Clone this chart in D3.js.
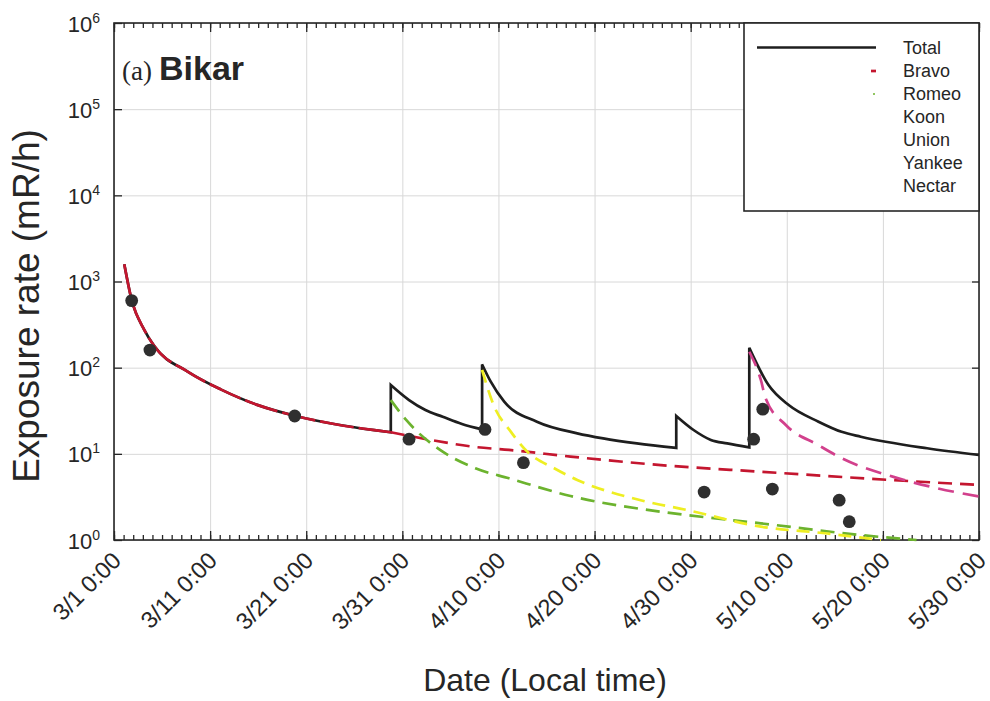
<!DOCTYPE html>
<html>
<head>
<meta charset="utf-8">
<script src="https://cdn.jsdelivr.net/npm/d3@7"></script>
<style>
  body { margin: 0; background: #fff; }
  svg { display: block; }
</style>
</head>
<body>
<svg id="chart" width="990" height="701"></svg>
<script>
// Exposure rate at Bikar, spring 1954. Times are days after 3/1 0:00 (local).

// Tick labels
const xTickDays = [0, 10, 20, 30, 40, 50, 60, 70, 80, 90];
const xTickLabels = ["3/1 0:00", "3/11 0:00", "3/21 0:00", "3/31 0:00", "4/10 0:00",
                     "4/20 0:00", "4/30 0:00", "5/10 0:00", "5/20 0:00", "5/30 0:00"];
const yTickValues = [1, 10, 100, 1000, 10000, 100000, 1000000];
const yTickExponents = ["0", "1", "2", "3", "4", "5", "6"];

// Legend entries
const legendNames = ["Total", "Bravo", "Romeo", "Koon", "Union", "Yankee", "Nectar"];

// Measured exposure rates [day, mR/h]
const measured = [
  [1.84, 600], [3.74, 160], [18.8, 27.5], [30.7, 14.8], [38.6, 19.2], [42.6, 7.9],
  [61.4, 3.6], [66.55, 14.8], [67.5, 33], [68.5, 3.9], [75.45, 2.9], [76.5, 1.63]
];

// Total exposure rate, one piece per fallout arrival [day, mR/h]
const totalPieces = [
  [[1.07, 1590], [1.84, 610], [3.15, 275], [4.19, 178], [7.66, 90], [11.1, 56],
   [14.9, 37], [18.8, 27.7], [22.9, 22.2], [27.1, 18.8], [28.8, 17.8]],
  [[28.8, 62.8], [30.7, 42], [32.4, 32.2], [34.2, 26.9], [36.2, 22.2], [38.3, 19.2]],
  [[38.3, 109], [39.2, 68.7], [40.6, 40.3], [44.0, 23.6], [48.2, 17.3], [50.9, 15.1],
   [54.4, 13.2], [58.5, 11.7]],
  [[58.5, 27.5], [60.3, 18.9], [62.1, 14.5], [63.8, 13.2], [66.1, 11.9]],
  [[66.1, 170], [68.1, 62.8], [70.2, 36.8], [73.3, 23.6], [75.7, 18], [77.7, 15.8],
   [84.6, 11.6], [90, 9.7]]
];

// Contribution of each test [day, mR/h]
const bravo = [
  [1.07, 1590], [1.84, 610], [3.15, 275], [4.19, 178], [7.66, 90], [11.1, 56],
  [14.9, 37], [18.8, 27.7], [22.9, 22.2], [27.1, 18.8], [28.8, 17.8], [32.8, 14.6],
  [37.6, 12.0], [41.1, 11.1], [47.5, 9.3], [56.9, 7.4], [67.3, 6.2], [80.4, 5.0], [90, 4.35]
];
const romeo = [
  [28.8, 42], [30.4, 24.7], [34.2, 10.6], [37.6, 6.8], [41.1, 5.2], [47.5, 3.24],
  [56.9, 2.13], [59.6, 1.95], [67.3, 1.56], [77.7, 1.14], [83.5, 1.0]
];
const koon = [
  [38.3, 94], [39.5, 36.8], [41.3, 18], [43.0, 10.6], [45.8, 6.8], [48.2, 4.97],
  [54.4, 2.97], [59.6, 2.23], [67.3, 1.43], [74.2, 1.19], [79.8, 1.0]
];
const yankee = [
  [66.1, 153], [67.3, 72], [67.8, 44], [69.9, 21.6], [73.3, 12.6], [75.7, 8.9], [81.1, 5.4],
  [85.6, 4.0], [90, 3.2]
];

const svg = d3.select("#chart");
const FONT = "'Liberation Sans', Arial, Helvetica, sans-serif";
const INK = "#262626";

const plot = { left: 114, right: 979, top: 23, bottom: 540 };
const origin = Date.UTC(1954, 2, 1);
const toDate = d => new Date(origin + d * 864e5);

const x = d3.scaleUtc().domain([toDate(0), toDate(90)]).range([plot.left, plot.right]);
const y = d3.scaleLog().domain([1, 1e6]).range([plot.bottom, plot.top]);

const plotW = plot.right - plot.left;
const plotH = plot.bottom - plot.top;
const dayTicks = d3.range(0, 91).map(toDate);
const majorTicks = xTickDays.map(toDate);

// grid
svg.append("g")
  .attr("transform", `translate(0,${plot.bottom})`)
  .call(d3.axisBottom(x).tickValues(majorTicks).tickSize(-plotH).tickFormat(""))
  .call(g => g.select(".domain").remove())
  .call(g => g.selectAll("line").attr("stroke", "#d8d8d8").attr("stroke-width", 1));
svg.append("g")
  .attr("transform", `translate(${plot.left},0)`)
  .call(d3.axisLeft(y).tickValues(yTickValues).tickSize(-plotW).tickFormat(""))
  .call(g => g.select(".domain").remove())
  .call(g => g.selectAll("line").attr("stroke", "#d8d8d8").attr("stroke-width", 1));

// frame
svg.append("rect")
  .attr("x", plot.left).attr("y", plot.top)
  .attr("width", plotW).attr("height", plotH)
  .attr("fill", "none").attr("stroke", INK).attr("stroke-width", 1.6);

function tickStyle(g) {
  g.select(".domain").remove();
  g.selectAll("line").attr("stroke", INK).attr("stroke-width", 1.3);
}

// bottom axis: daily minor ticks, 10-day major ticks, all pointing inward
svg.append("g").attr("transform", `translate(0,${plot.bottom})`)
  .call(d3.axisBottom(x).tickValues(dayTicks).tickSize(-5).tickFormat(""))
  .call(tickStyle);
const xAxis = svg.append("g").attr("transform", `translate(0,${plot.bottom})`)
  .call(d3.axisBottom(x).tickValues(majorTicks).tickSize(-9)
    .tickFormat((d, i) => xTickLabels[i]))
  .call(tickStyle);
xAxis.selectAll("text")
  .attr("font-family", FONT).attr("font-size", 23.5).attr("fill", INK)
  .attr("text-anchor", "end")
  .attr("dy", null)
  .attr("y", 0)
  .attr("transform", "translate(8,22) rotate(-45)");

// top axis
svg.append("g").attr("transform", `translate(0,${plot.top})`)
  .call(d3.axisTop(x).tickValues(dayTicks).tickSize(-5).tickFormat(""))
  .call(tickStyle);
svg.append("g").attr("transform", `translate(0,${plot.top})`)
  .call(d3.axisTop(x).tickValues(majorTicks).tickSize(-9).tickFormat(""))
  .call(tickStyle);

// left axis with 10^n labels
const yAxis = svg.append("g").attr("transform", `translate(${plot.left},0)`)
  .call(d3.axisLeft(y).tickValues(yTickValues).tickSize(-8).tickFormat(""))
  .call(tickStyle);
yAxis.selectAll(".tick").each(function(d, i) {
  const t = d3.select(this).append("text")
    .attr("x", -14).attr("y", 8)
    .attr("text-anchor", "end")
    .attr("font-family", FONT).attr("fill", INK);
  t.append("tspan").attr("font-size", 22).text("10");
  t.append("tspan").attr("font-size", 14).attr("dy", -9).text(yTickExponents[i]);
});

// right axis
svg.append("g").attr("transform", `translate(${plot.right},0)`)
  .call(d3.axisRight(y).tickValues(yTickValues).tickSize(-7).tickFormat(""))
  .call(tickStyle);

// data lines
svg.append("defs").append("clipPath").attr("id", "plotclip")
  .append("rect").attr("x", plot.left).attr("y", plot.top - 2)
  .attr("width", plotW).attr("height", plotH + 4);
const layer = svg.append("g").attr("clip-path", "url(#plotclip)");

const line = d3.line()
  .x(d => x(toDate(d[0])))
  .y(d => y(d[1]))
  .curve(d3.curveMonotoneX);

// total: pieces joined by vertical jumps
const totalPath = totalPieces.map((p, i) => {
  const s = line(p);
  return i === 0 ? s : "L" + s.slice(1);
}).join("");
layer.append("path").attr("d", totalPath)
  .attr("fill", "none").attr("stroke", "#1e1e1e").attr("stroke-width", 2.7)
  .attr("stroke-linejoin", "miter");

function dashed(data, color, dash) {
  layer.append("path").attr("d", line(data))
    .attr("fill", "none").attr("stroke", color).attr("stroke-width", 2.7)
    .attr("stroke-dasharray", dash);
}
const bravoSplit = bravo.findIndex(d => d[0] >= 28.8);
dashed(bravo.slice(0, bravoSplit + 1), "#c4162f", "34,5");
dashed(bravo.slice(bravoSplit), "#c4162f", "14,8");
dashed(romeo, "#6cb32e", "14,8");
dashed(koon, "#eeee22", "13,8");
dashed(yankee, "#d2408c", "16,9");

// measured points
layer.selectAll("circle.obs").data(measured).join("circle")
  .attr("class", "obs")
  .attr("cx", d => x(toDate(d[0])))
  .attr("cy", d => y(d[1]))
  .attr("r", 6.4)
  .attr("fill", "#2f2f2f");

// panel label
const title = svg.append("text").attr("x", 122).attr("y", 80).attr("fill", INK);
title.append("tspan").attr("font-family", "'Liberation Serif', 'Times New Roman', serif")
  .attr("font-size", 27).text("(a)");
title.append("tspan").attr("font-family", FONT).attr("font-weight", "bold")
  .attr("font-size", 34).attr("dx", 7).text("Bikar");

// legend
const lg = svg.append("g");
lg.append("rect").attr("x", 744).attr("y", 23).attr("width", 235).attr("height", 188)
  .attr("fill", "#fff").attr("stroke", INK).attr("stroke-width", 1.6);
lg.selectAll("text").data(legendNames).join("text")
  .attr("x", 903).attr("y", (d, i) => 54 + i * 23)
  .attr("font-family", FONT).attr("font-size", 18).attr("fill", INK)
  .text(d => d);
lg.append("line").attr("x1", 757).attr("x2", 876).attr("y1", 47.5).attr("y2", 47.5)
  .attr("stroke", "#1e1e1e").attr("stroke-width", 2.7);
lg.append("line").attr("x1", 871).attr("x2", 876).attr("y1", 71).attr("y2", 71)
  .attr("stroke", "#c4162f").attr("stroke-width", 2.7);
lg.append("circle").attr("cx", 874).attr("cy", 94).attr("r", 1)
  .attr("fill", "#6cb32e");

// axis titles
svg.append("text")
  .attr("x", 545).attr("y", 691)
  .attr("text-anchor", "middle")
  .attr("font-family", FONT).attr("font-size", 32).attr("fill", INK)
  .text("Date (Local time)");
svg.append("text")
  .attr("transform", "translate(39,306) rotate(-90)")
  .attr("text-anchor", "middle")
  .attr("font-family", FONT).attr("font-size", 37).attr("fill", INK)
  .text("Exposure rate (mR/h)");
</script>
</body>
</html>
